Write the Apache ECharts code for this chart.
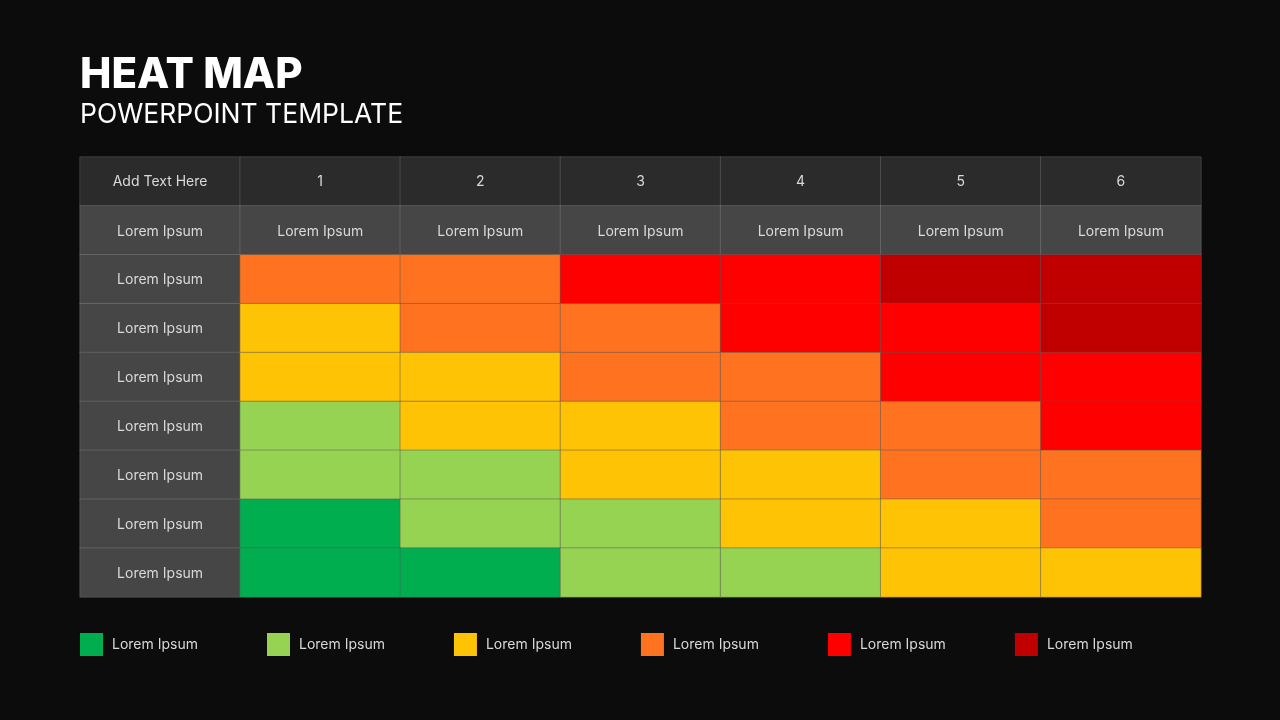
<!DOCTYPE html>
<html>
<head>
<meta charset="utf-8">
<style>
  html, body { margin: 0; padding: 0; background: #0c0c0c; }
  #chart { width: 1280px; height: 720px; }
</style>
<script src="https://cdn.jsdelivr.net/npm/echarts@6/dist/echarts.min.js"></script>
</head>
<body>
<div id="chart"></div>
<script>
const fontName = 'Inter, "Noto Sans", sans-serif';

// column and row captions
const columnHeaders = ['Add Text Here', '1', '2', '3', '4', '5', '6'];
const subHeaders = ['Lorem Ipsum', 'Lorem Ipsum', 'Lorem Ipsum', 'Lorem Ipsum', 'Lorem Ipsum', 'Lorem Ipsum', 'Lorem Ipsum'];
const rowLabels = ['Lorem Ipsum', 'Lorem Ipsum', 'Lorem Ipsum', 'Lorem Ipsum', 'Lorem Ipsum', 'Lorem Ipsum', 'Lorem Ipsum'];

// risk level per cell, 0 = green ... 5 = dark red
const row1 = [3, 3, 4, 4, 5, 5];
const row2 = [2, 3, 3, 4, 4, 5];
const row3 = [2, 2, 3, 3, 4, 4];
const row4 = [1, 2, 2, 3, 3, 4];
const row5 = [1, 1, 2, 2, 3, 3];
const row6 = [0, 1, 1, 2, 2, 3];
const row7 = [0, 0, 1, 1, 2, 2];
const heatRows = [row1, row2, row3, row4, row5, row6, row7];

const levelColors = ['#00ae4f', '#97d352', '#ffc305', '#ff7320', '#ff0000', '#c00000'];
const legendLabels = ['Lorem Ipsum', 'Lorem Ipsum', 'Lorem Ipsum', 'Lorem Ipsum', 'Lorem Ipsum', 'Lorem Ipsum'];

// build cell lists for the two series
const xSlots = columnHeaders.map((_, i) => 'c' + i);
const ySlots = ['top', 'sub'].concat(rowLabels.map((_, i) => 'r' + i));

// lower rows sit a bit under the cell centre in the original
const captionCells = [];
columnHeaders.forEach((text, x) => {
    captionCells.push({ name: text, value: [x, 0, 0], itemStyle: { color: '#2b2b2b' } });
});
subHeaders.forEach((text, x) => {
    captionCells.push({ name: text, value: [x, 1, 0], itemStyle: { color: '#464646' }, label: { offset: [0, 1] } });
});
rowLabels.forEach((text, y) => {
    captionCells.push({ name: text, value: [0, y + 2, 0], itemStyle: { color: '#464646' }, label: { offset: [0, 1] } });
});

const heatCells = [];
heatRows.forEach((row, y) => {
    row.forEach((level, x) => {
        heatCells.push([x + 1, y + 2, level]);
    });
});

const chart = echarts.init(document.getElementById('chart'));

chart.setOption({
    backgroundColor: '#0c0c0c',
    animation: false,
    title: [
        {
            text: 'HEAT MAP',
            left: 75,
            top: 49,
            textStyle: { color: '#ffffff', fontFamily: fontName, fontWeight: 800, fontSize: 42 }
        },
        {
            text: 'POWERPOINT TEMPLATE',
            left: 75,
            top: 97,
            textStyle: { color: '#ffffff', fontFamily: fontName, fontWeight: 400, fontSize: 26.5 }
        }
    ],
    grid: { left: 80, right: 79, top: 157, bottom: 123 },
    xAxis: {
        type: 'category',
        data: xSlots,
        position: 'top',
        axisLine: { show: false },
        axisTick: { show: false },
        axisLabel: { show: false },
        splitLine: { show: false }
    },
    yAxis: {
        type: 'category',
        data: ySlots,
        inverse: true,
        axisLine: { show: false },
        axisTick: { show: false },
        axisLabel: { show: false },
        splitLine: { show: false }
    },
    visualMap: {
        type: 'piecewise',
        seriesIndex: 1,
        orient: 'horizontal',
        left: 80,
        top: 633,
        padding: 0,
        itemWidth: 23,
        itemHeight: 23,
        itemGap: 69,
        textGap: 9,
        itemSymbol: 'rect',
        selectedMode: false,
        hoverLink: false,
        textStyle: { color: '#d9d9d9', fontFamily: fontName, fontSize: 14 },
        pieces: levelColors.map((color, i) => ({ value: i, color: color, label: legendLabels[i], symbol: 'rect' }))
    },
    series: [
        {
            name: 'captions',
            type: 'heatmap',
            data: captionCells,
            itemStyle: { borderColor: 'rgba(255, 255, 255, 0.14)', borderWidth: 1 },
            label: {
                show: true,
                formatter: '{b}',
                color: '#d9d9d9',
                fontFamily: fontName,
                fontSize: 14
            },
            emphasis: { disabled: true }
        },
        {
            name: 'levels',
            type: 'heatmap',
            data: heatCells,
            itemStyle: { borderColor: 'rgba(90, 90, 90, 0.5)', borderWidth: 1 },
            label: { show: false },
            emphasis: { disabled: true }
        }
    ]
});
</script>
</body>
</html>
